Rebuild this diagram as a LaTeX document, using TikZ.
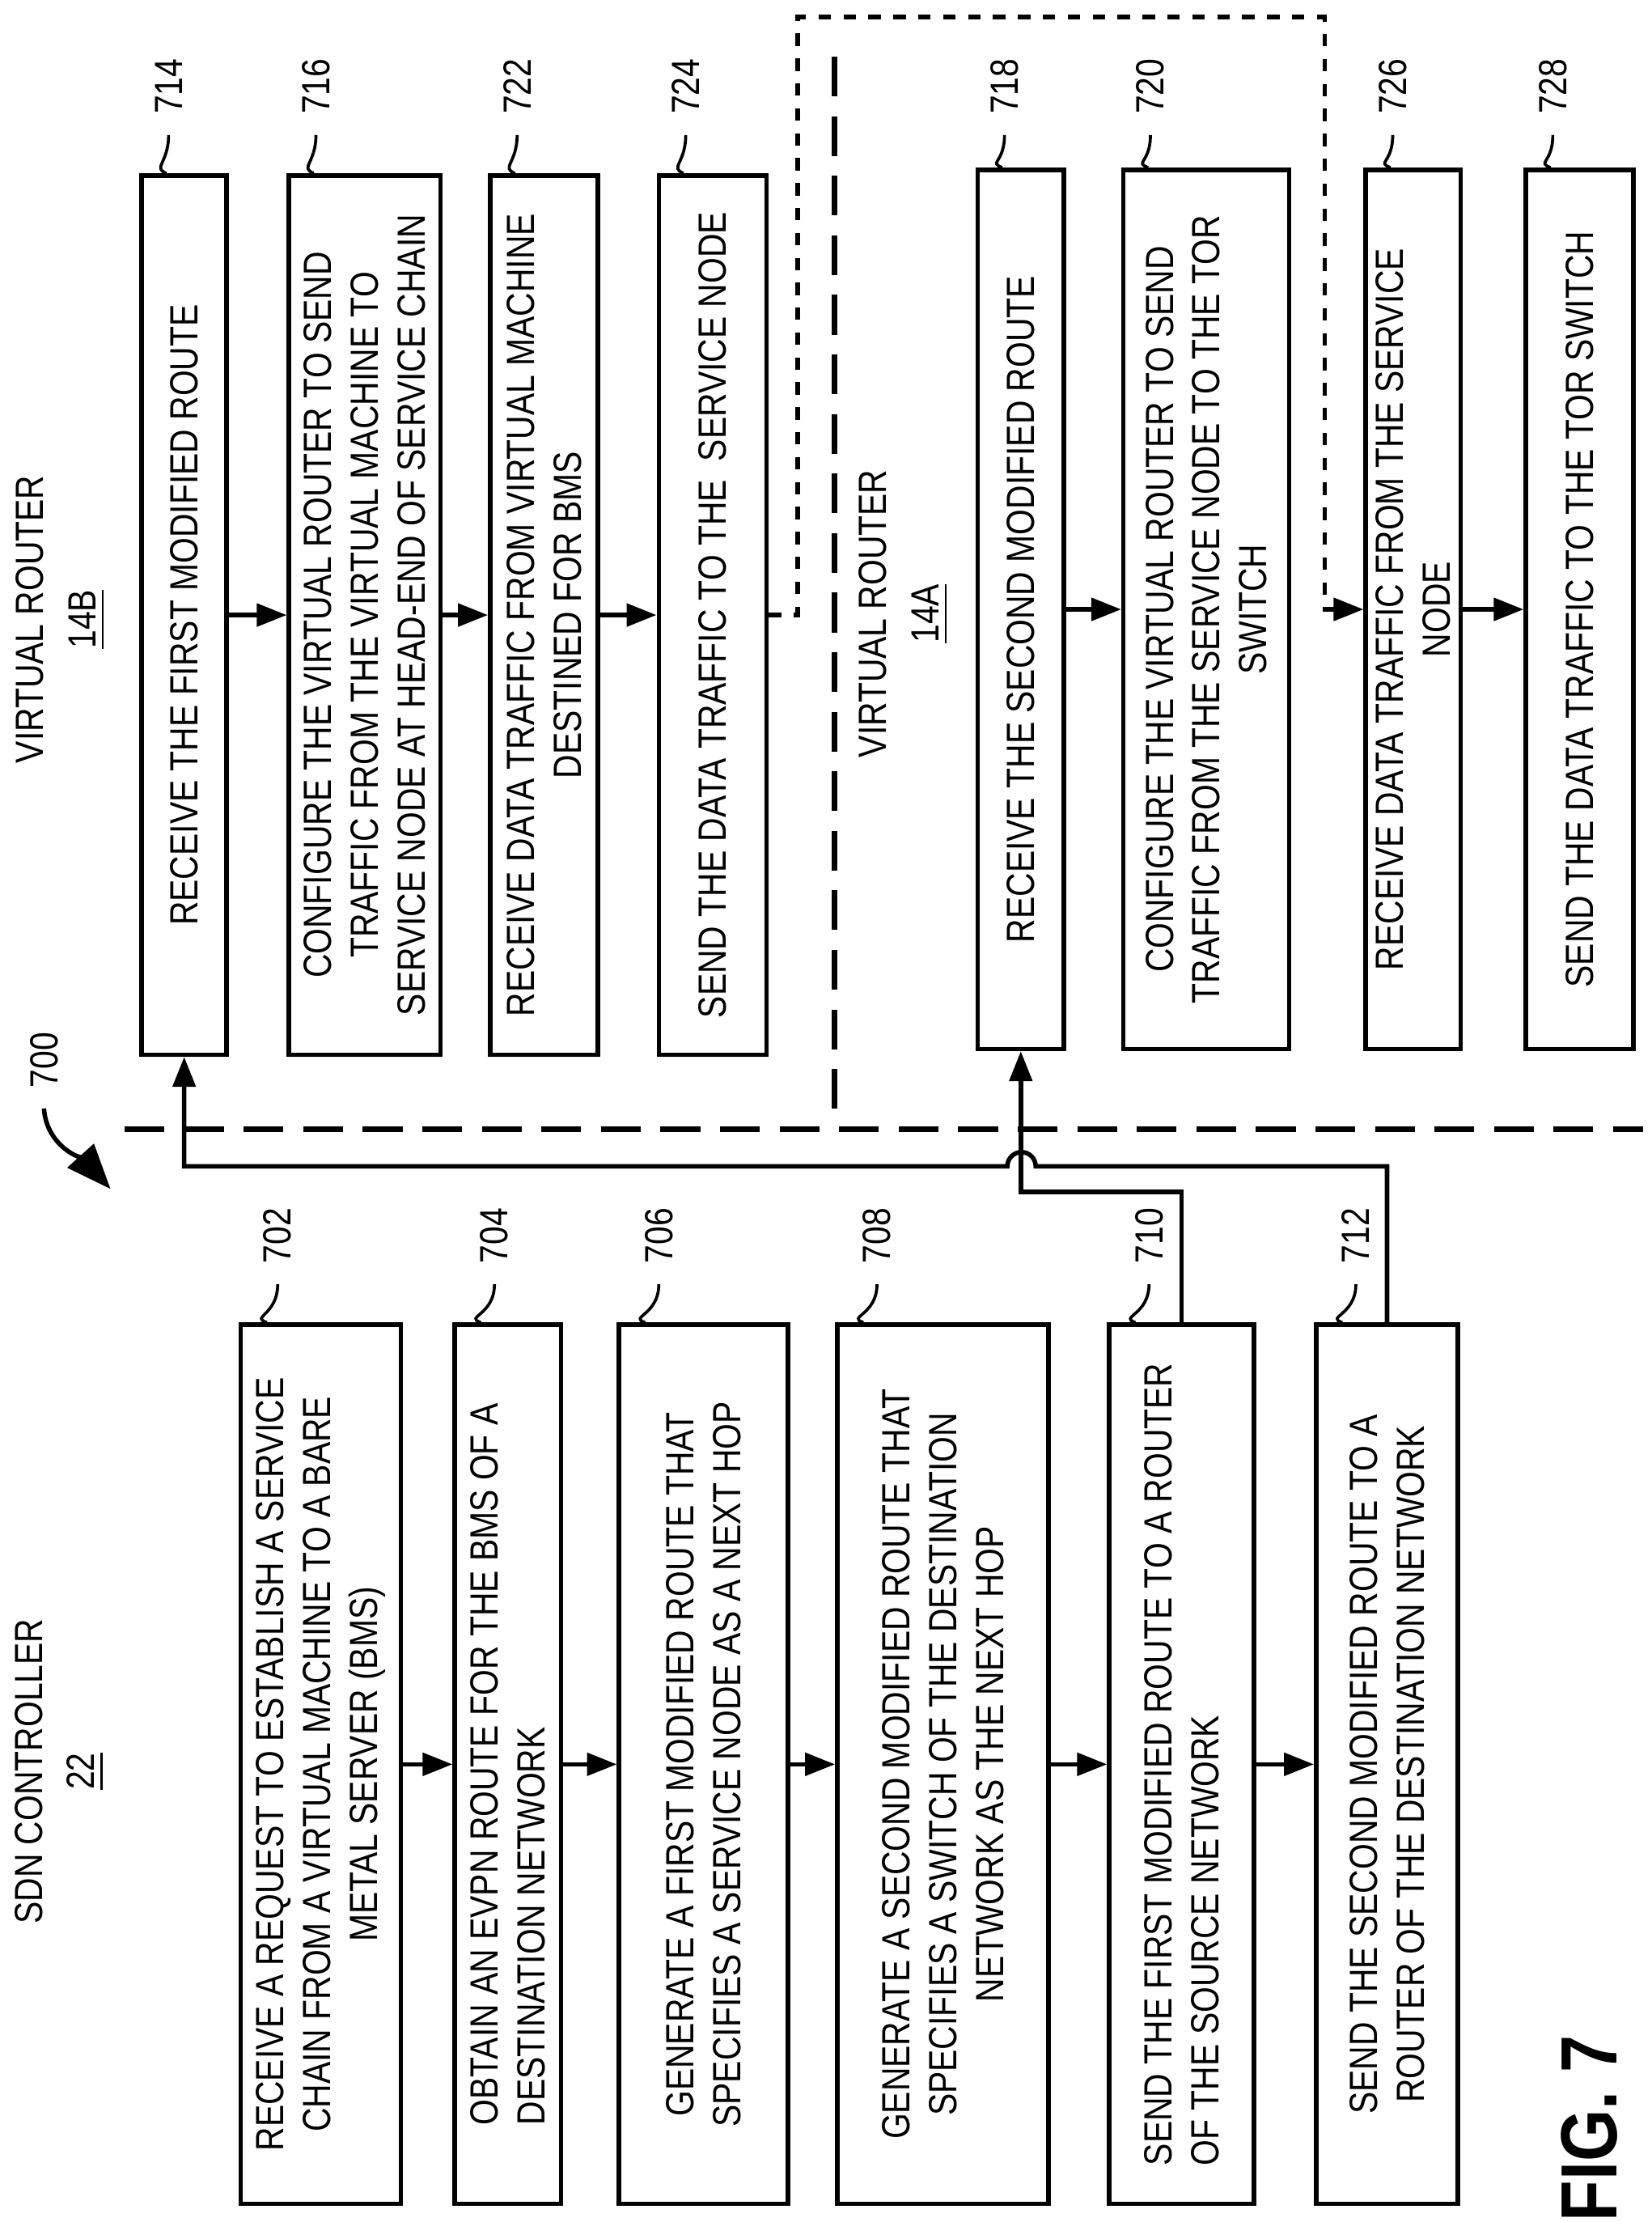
\documentclass[tikz,border=0pt]{standalone}
\usepackage{fontspec}
\setmainfont{Liberation Sans}[FakeStretch=0.84]
\usetikzlibrary{arrows.meta}

\tikzset{
  stp/.style={draw, line width=0.9pt, rotate=90, minimum width=6.2cm, inner sep=2pt,
    align=center, font=\fontsize{7.9}{9.4}\selectfont},
  lbl/.style={rotate=90, inner sep=4pt, font=\fontsize{7.9}{9}\selectfont},
  hdr/.style={rotate=90, align=center, font=\fontsize{7.9}{10.5}\selectfont},
  lead/.style={line width=0.6pt},
  arr/.style={line width=0.9pt, -{Triangle[length=6pt,width=4.5pt]}},
  longdash/.style={line width=1.1pt, dash pattern=on 0.28cm off 0.14cm},
  dotbox/.style={line width=0.9pt, dash pattern=on 2.5pt off 2.5pt}
}

\begin{document}
\begin{tikzpicture}[x=0.01cm,y=-0.01cm]
\useasboundingbox (0,0) rectangle (1166,1568);

\node[hdr] (sdn) at (42,1250) {SDN CONTROLLER\\\underline{22}};
\node[hdr] (vrB) at (43,437) {VIRTUAL ROUTER\\\underline{14B}};
\node[hdr] (vrA) at (638,433) {VIRTUAL ROUTER\\\underline{14A}};

\node[stp, minimum height=1.13cm] (b702) at (226.5,1245) {RECEIVE A REQUEST TO ESTABLISH A SERVICE\\CHAIN FROM A VIRTUAL MACHINE TO A BARE\\METAL SERVER (BMS)};
\node[stp, minimum height=0.75cm, align=left] (b704) at (358.5,1245) {OBTAIN AN EVPN ROUTE FOR THE BMS OF A\\DESTINATION NETWORK};
\node[stp, minimum height=1.19cm] (b706) at (496.5,1245) {GENERATE A FIRST MODIFIED ROUTE THAT\\SPECIFIES A SERVICE NODE AS A NEXT HOP};
\node[stp, minimum height=1.49cm] (b708) at (665.5,1245) {GENERATE A SECOND MODIFIED ROUTE THAT\\SPECIFIES A SWITCH OF THE DESTINATION\\NETWORK AS THE NEXT HOP};
\node[stp, minimum height=1.02cm, align=left] (b710) at (834,1245) {SEND THE FIRST MODIFIED ROUTE TO A ROUTER\\OF THE SOURCE NETWORK};
\node[stp, minimum height=1.00cm] (b712) at (979,1245) {SEND THE SECOND MODIFIED ROUTE TO A\\ROUTER OF THE DESTINATION NETWORK};

\node[stp, minimum height=0.60cm] (b714) at (130,434) {RECEIVE THE FIRST MODIFIED ROUTE};
\node[stp, minimum height=1.07cm] (b716) at (257.5,434) {CONFIGURE THE VIRTUAL ROUTER TO SEND\\TRAFFIC FROM THE VIRTUAL MACHINE TO\\SERVICE NODE AT HEAD-END OF SERVICE CHAIN};
\node[stp, minimum height=0.76cm] (b722) at (384,434) {RECEIVE DATA TRAFFIC FROM VIRTUAL MACHINE\\DESTINED FOR BMS};
\node[stp, minimum height=0.76cm] (b724) at (503,434) {SEND THE DATA TRAFFIC TO THE \ SERVICE NODE};
\node[stp, minimum height=0.61cm] (b718) at (720.5,430) {RECEIVE THE SECOND MODIFIED ROUTE};
\node[stp, minimum height=1.17cm] (b720) at (851.5,430) {CONFIGURE THE VIRTUAL ROUTER TO SEND\\TRAFFIC FROM THE SERVICE NODE TO THE TOR\\SWITCH};
\node[stp, minimum height=0.67cm] (b726) at (997.5,430) {RECEIVE DATA TRAFFIC FROM THE SERVICE\\NODE};
\node[stp, minimum height=0.76cm] (b728) at (1115,430) {SEND THE DATA TRAFFIC TO THE TOR SWITCH};

\foreach \n/\x in {702/196,704/349,706/465,708/619,710/811,712/957}{
  \node[lbl] (n\n) at (\x,872) {\n};
  \draw[lead] (n\n.west) .. controls +(0,22) and +(-12,-4) .. ([xshift=0.2cm]b\n.north east);
}
\foreach \n/\x in {714/119,716/223,722/365,724/484,718/709,720/812,726/983,728/1096}{
  \node[lbl] (n\n) at (\x,61) {\n};
  \draw[lead] (n\n.west) .. controls +(0,20) and +(-10,-4) .. ([xshift=0.19cm]b\n.north east);
}

\foreach \a/\b in {702/704,704/706,706/708,708/710,710/712,714/716,716/722,722/724,718/720,726/728}
  \draw[arr] (b\a.south) -- (b\b.north);

\coordinate (dl) at (88,797);
\coordinate (dr) at (1160,797);
\coordinate (vt) at (589,40);
\coordinate (vb) at (589,782);
\draw[longdash] (dl) -- (dr);
\draw[longdash] (vt) -- (vb);

\coordinate (ctl) at (563,12);
\coordinate (ctr) at (935,12);
\draw[dotbox] (b724.south) -| (ctl) -- (ctr) |- ([xshift=-0.14cm]b726.north);
\draw[arr] ([xshift=-0.15cm]b726.north) -- (b726.north);

\coordinate (h712) at (731,823);
\coordinate (j710) at (721,841);
\draw[arr] (b712.east) |- (h712) arc[start angle=0,end angle=-180,radius=10] -| (b714.west);
\draw[arr] (b710.east) |- (j710) -| (b718.west);

\node[lbl] (n700) at (31,748) {700};
\coordinate (p700) at (78,839);
\draw[line width=0.9pt, -{Triangle[length=9pt,width=7pt]}] (n700.west) .. controls +(2,28) and +(-18,-20) .. (p700);

\node[rotate=90, font=\bfseries\fontsize{16}{16}\selectfont] (fig) at (1122,1502) {FIG. 7};
\end{tikzpicture}
\end{document}
